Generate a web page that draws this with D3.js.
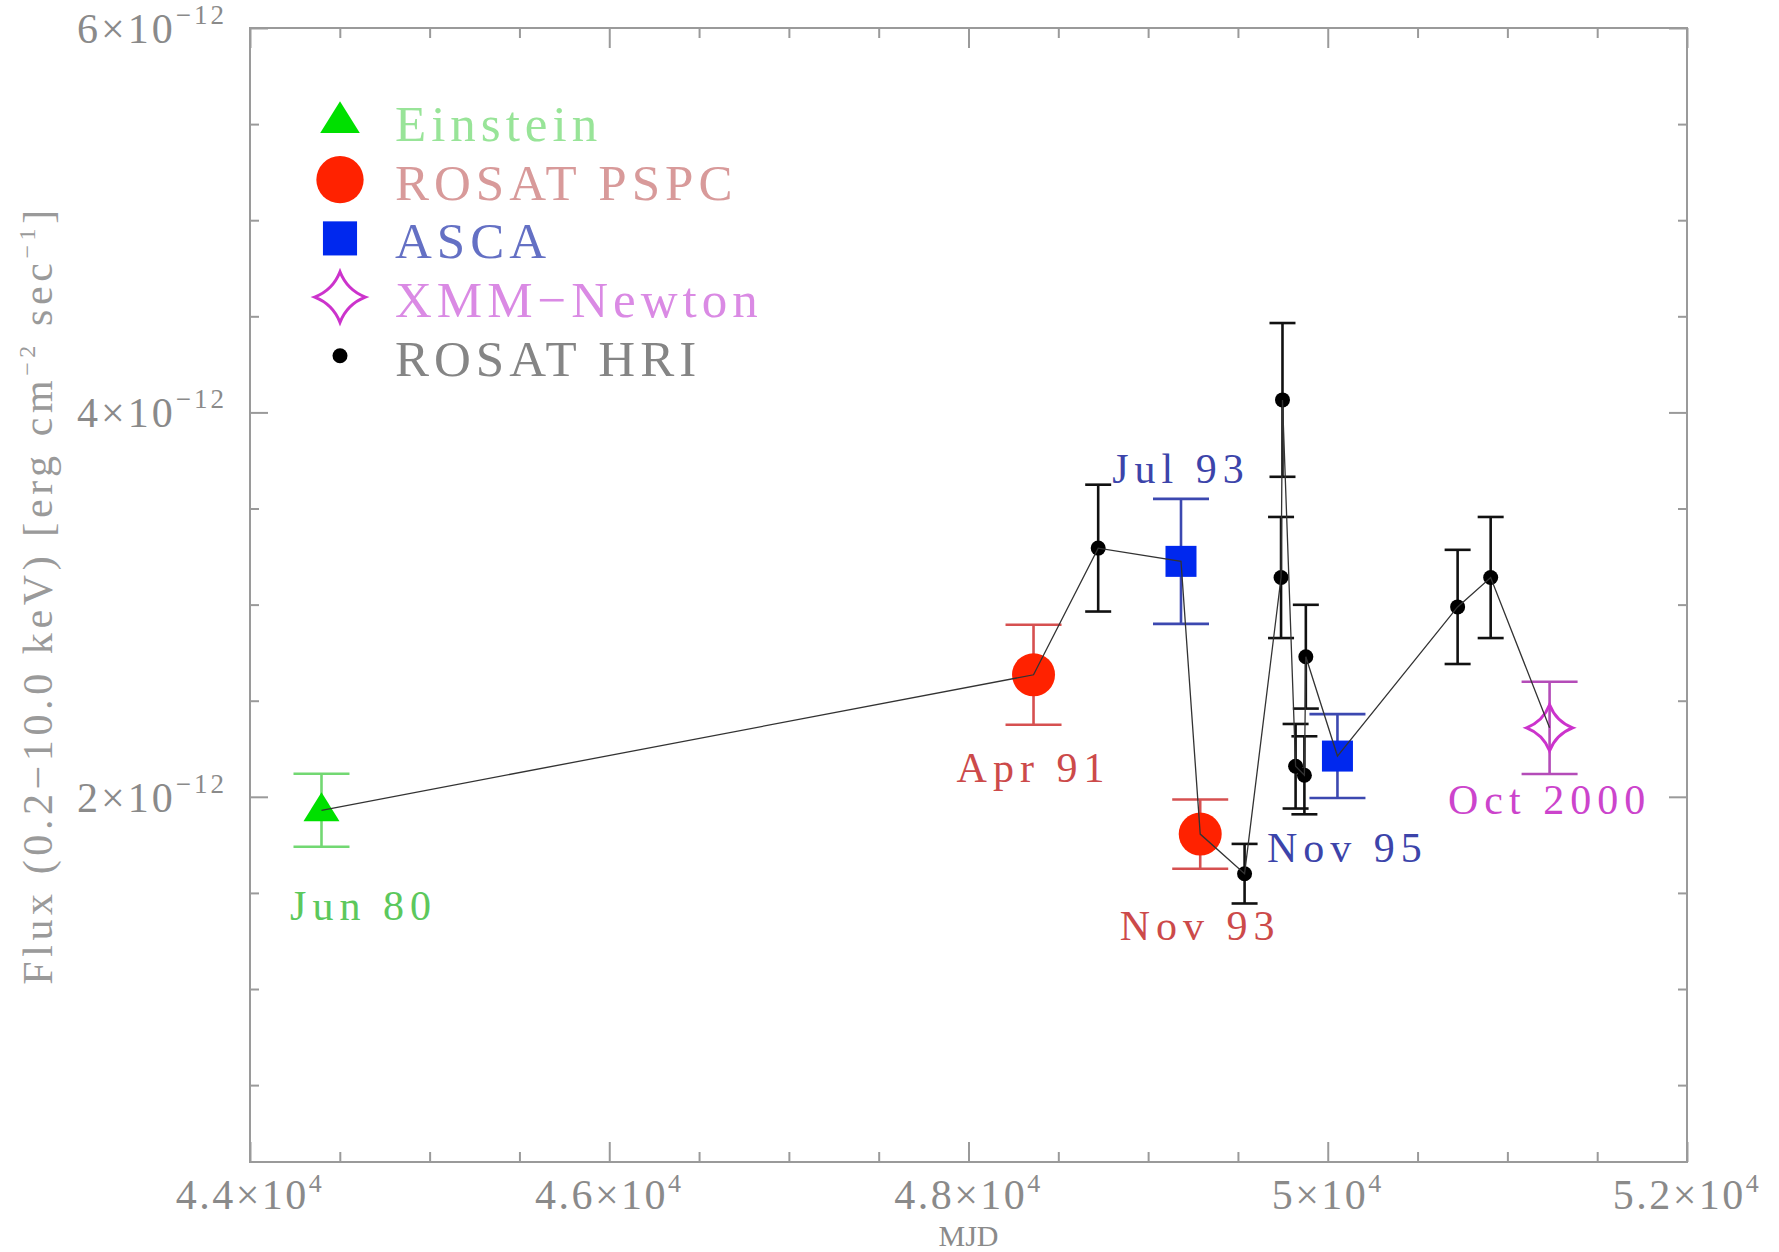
<!DOCTYPE html>
<html>
<head>
<meta charset="utf-8">
<script src="https://cdn.jsdelivr.net/npm/d3@7"></script>
<style>
  body { margin: 0; background: #fff; }
  svg text { font-family: "Liberation Serif", "DejaVu Serif", serif; }
</style>
</head>
<body>
<svg id="chart" width="1779" height="1252"></svg>
<script>
// flux values in units of 1e-12 erg cm^-2 s^-1, time in MJD
const einsteinMjd = [44398];
const einsteinFlux = [1.93];
const einsteinErr = [0.19];

const pspcMjd = [48362, 49290];
const pspcFlux = [2.635, 1.806];
const pspcErr = [0.26, 0.18];

const ascaMjd = [49183, 50054];
const ascaFlux = [3.225, 2.212];
const ascaErr = [0.325, 0.218];

const xmmMjd = [51235];
const xmmFlux = [2.359];
const xmmErr = [0.24];

const hriMjd = [48722, 49537, 49740, 49748, 49821, 49870, 49878, 50723, 50907];
const hriFlux = [3.294, 1.6, 3.141, 4.065, 2.159, 2.112, 2.729, 2.988, 3.141];
const hriErr = [0.33, 0.155, 0.315, 0.4, 0.22, 0.203, 0.27, 0.297, 0.315];

const epochLabels = ["Jun 80", "Apr 91", "Jul 93", "Nov 93", "Nov 95", "Oct 2000"];
const legendNames = ["Einstein", "ROSAT PSPC", "ASCA", "XMM\u2212Newton", "ROSAT HRI"];

const xMajor = [44000, 46000, 48000, 50000, 52000];
const xMajorLabels = [["4.4\u00d710", "4"], ["4.6\u00d710", "4"], ["4.8\u00d710", "4"], ["5\u00d710", "4"], ["5.2\u00d710", "4"]];
const yMajor = [2, 4, 6];
const yMajorLabels = [["2\u00d710", "\u221212"], ["4\u00d710", "\u221212"], ["6\u00d710", "\u221212"]];

const WIDTH = 1779, HEIGHT = 1252;
const M = { left: 250, top: 28, right: 92, bottom: 90 };
const FRAME = "#9a9a9a";

const svg = d3.select("#chart");
const x = d3.scaleLinear().domain([44000, 52000]).range([M.left, WIDTH - M.right]);
const y = d3.scaleLinear().domain([0.1, 6]).range([HEIGHT - M.bottom, M.top]);

const zip = (m, f, e) => m.map((d, i) => ({ mjd: d, flux: f[i], err: e[i] }));
const groups = [
  { key: "einstein", pts: zip(einsteinMjd, einsteinFlux, einsteinErr), bar: "#72d872", cap: 28, label: [0], lblColor: "#5cc85c" },
  { key: "pspc", pts: zip(pspcMjd, pspcFlux, pspcErr), bar: "#d65050", cap: 28, label: [1, 3], lblColor: "#cc4a4a" },
  { key: "asca", pts: zip(ascaMjd, ascaFlux, ascaErr), bar: "#3c48b0", cap: 28, label: [2, 4], lblColor: "#3c44aa" },
  { key: "xmm", pts: zip(xmmMjd, xmmFlux, xmmErr), bar: "#b44cb8", cap: 28, label: [5], lblColor: "#cc44cc" },
  { key: "hri", pts: zip(hriMjd, hriFlux, hriErr), bar: "#111", cap: 13 }
];

// marker shapes
function starPath(r) {
  const c = r * 0.28;
  return `M0,${-r}Q${c},${-c} ${r},0Q${c},${c} 0,${r}Q${-c},${c} ${-r},0Q${-c},${-c} 0,${-r}Z`;
}
function triPath(w, h) {
  return `M0,${-h * 0.62}L${w / 2},${h * 0.38}L${-w / 2},${h * 0.38}Z`;
}
function drawMarker(g, key, big) {
  const s = big ? 1.1 : 1;
  if (key === "einstein") g.append("path").attr("d", triPath(36 * s, 29 * s)).attr("fill", "#00e000");
  else if (key === "pspc") g.append("circle").attr("r", 21.5 * s).attr("fill", "#ff2200");
  else if (key === "asca") g.append("rect").attr("x", -15.5 * s).attr("y", -15.5 * s)
    .attr("width", 31 * s).attr("height", 31 * s).attr("fill", "#0028ee");
  else if (key === "xmm") g.append("path").attr("d", starPath(23 * s)).attr("fill", "none")
    .attr("stroke", "#cc33cc").attr("stroke-width", 3);
  else g.append("circle").attr("r", 7.5).attr("fill", "#000");
}

// frame and ticks
const plot = svg.append("g");
plot.append("rect")
  .attr("x", M.left).attr("y", M.top)
  .attr("width", WIDTH - M.left - M.right).attr("height", HEIGHT - M.top - M.bottom)
  .attr("fill", "none").attr("stroke", FRAME).attr("stroke-width", 2);

const xMinor = d3.range(44000, 52001, 500).filter(v => !xMajor.includes(v));
const yMinor = d3.range(0.5, 6.01, 0.5).filter(v => !yMajor.includes(v));

function tickAxis(axisFn, scale, values, size, transform) {
  const g = svg.append("g").attr("transform", transform)
    .call(axisFn(scale).tickValues(values).tickSizeInner(-size).tickSizeOuter(0).tickFormat(""));
  g.select(".domain").remove();
  g.selectAll("line").attr("stroke", FRAME).attr("stroke-width", 2);
}
[[xMajor, 20], [xMinor, 10]].forEach(([v, s]) => {
  tickAxis(d3.axisBottom, x, v, s, `translate(0,${HEIGHT - M.bottom})`);
  tickAxis(d3.axisTop, x, v, s, `translate(0,${M.top})`);
});
[[yMajor, 18], [yMinor, 9]].forEach(([v, s]) => {
  tickAxis(d3.axisLeft, y, v, s, `translate(${M.left},0)`);
  tickAxis(d3.axisRight, y, v, s, `translate(${WIDTH - M.right},0)`);
});

// tick labels with superscripts
svg.append("g").selectAll("text").data(xMajor).join("text")
  .attr("x", d => x(d)).attr("y", HEIGHT - M.bottom + 47)
  .attr("text-anchor", "middle").attr("fill", "#8a8a8a")
  .attr("font-size", 42).attr("letter-spacing", 2.5)
  .each(function (d, i) {
    const t = d3.select(this);
    t.append("tspan").text(xMajorLabels[i][0]);
    t.append("tspan").attr("font-size", 26).attr("dy", -17).text(xMajorLabels[i][1]);
  });

svg.append("g").selectAll("text").data(yMajor).join("text")
  .attr("x", M.left - 23).attr("y", d => y(d) + 15)
  .attr("text-anchor", "end").attr("fill", "#8a8a8a")
  .attr("font-size", 42).attr("letter-spacing", 3)
  .each(function (d, i) {
    const t = d3.select(this);
    t.append("tspan").text(yMajorLabels[i][0]);
    t.append("tspan").attr("font-size", 27).attr("dy", -19).text(yMajorLabels[i][1]);
  });

// axis titles
svg.append("text")
  .attr("x", (M.left + WIDTH - M.right) / 2).attr("y", HEIGHT - 6)
  .attr("text-anchor", "middle").attr("fill", "#8a8a8a").attr("font-size", 30)
  .text("MJD");

const yTitle = svg.append("text")
  .attr("transform", `translate(52,${(M.top + HEIGHT - M.bottom) / 2}) rotate(-90)`)
  .attr("text-anchor", "middle").attr("fill", "#9a9a9a")
  .attr("font-size", 42).attr("letter-spacing", 4.6);
yTitle.append("tspan").text("Flux (0.2\u221210.0 keV) [erg cm");
yTitle.append("tspan").attr("font-size", 24).attr("dy", -17).text("\u22122");
yTitle.append("tspan").attr("dy", 17).text(" sec");
yTitle.append("tspan").attr("font-size", 24).attr("dy", -17).text("\u22121");
yTitle.append("tspan").attr("dy", 17).text("]");

// error bars and markers
groups.forEach(gr => {
  const g = svg.append("g").attr("class", gr.key);
  gr.pts.forEach(p => {
    const cx = x(p.mjd), y0 = y(p.flux - p.err), y1 = y(p.flux + p.err);
    const eb = g.append("g").attr("stroke", gr.bar).attr("stroke-width", 2.6);
    eb.append("line").attr("x1", cx).attr("x2", cx).attr("y1", y0).attr("y2", y1);
    eb.append("line").attr("x1", cx - gr.cap).attr("x2", cx + gr.cap).attr("y1", y0).attr("y2", y0);
    eb.append("line").attr("x1", cx - gr.cap).attr("x2", cx + gr.cap).attr("y1", y1).attr("y2", y1);
    drawMarker(g.append("g").attr("transform", `translate(${cx},${y(p.flux)})`), gr.key, false);
  });
});

// connecting line through all epochs in time order
const allPts = groups.flatMap(gr => gr.pts).sort((a, b) => a.mjd - b.mjd);
svg.append("path")
  .datum(allPts)
  .attr("fill", "none").attr("stroke", "#333").attr("stroke-width", 1.3)
  .attr("d", d3.line().x(d => x(d.mjd)).y(d => y(d.flux)));

// epoch labels: offsets in px from the marked point
const labelOffsets = [[42, 110], [0, 107], [0, -78], [0, 106], [10, 106], [0, 86]];
groups.filter(gr => gr.label).forEach(gr => {
  gr.pts.forEach((p, i) => {
    const li = gr.label[i];
    svg.append("text")
      .attr("x", x(p.mjd) + labelOffsets[li][0]).attr("y", y(p.flux) + labelOffsets[li][1])
      .attr("text-anchor", "middle").attr("fill", gr.lblColor)
      .attr("font-size", 42).attr("letter-spacing", 6)
      .text(epochLabels[li]);
  });
});

// legend
const legendKeys = ["einstein", "pspc", "asca", "xmm", "hri"];
const legendColors = ["#98e498", "#d89a9a", "#6470c4", "#da8ae4", "#858585"];
const legend = svg.append("g");
legendKeys.forEach((k, i) => {
  const ly = 121 + i * 58.7;
  drawMarker(legend.append("g").attr("transform", `translate(340,${ly})`), k, true);
  legend.append("text")
    .attr("x", 395).attr("y", ly + 20)
    .attr("fill", legendColors[i]).attr("font-size", 51).attr("letter-spacing", 5)
    .text(legendNames[i]);
});
</script>
</body>
</html>
